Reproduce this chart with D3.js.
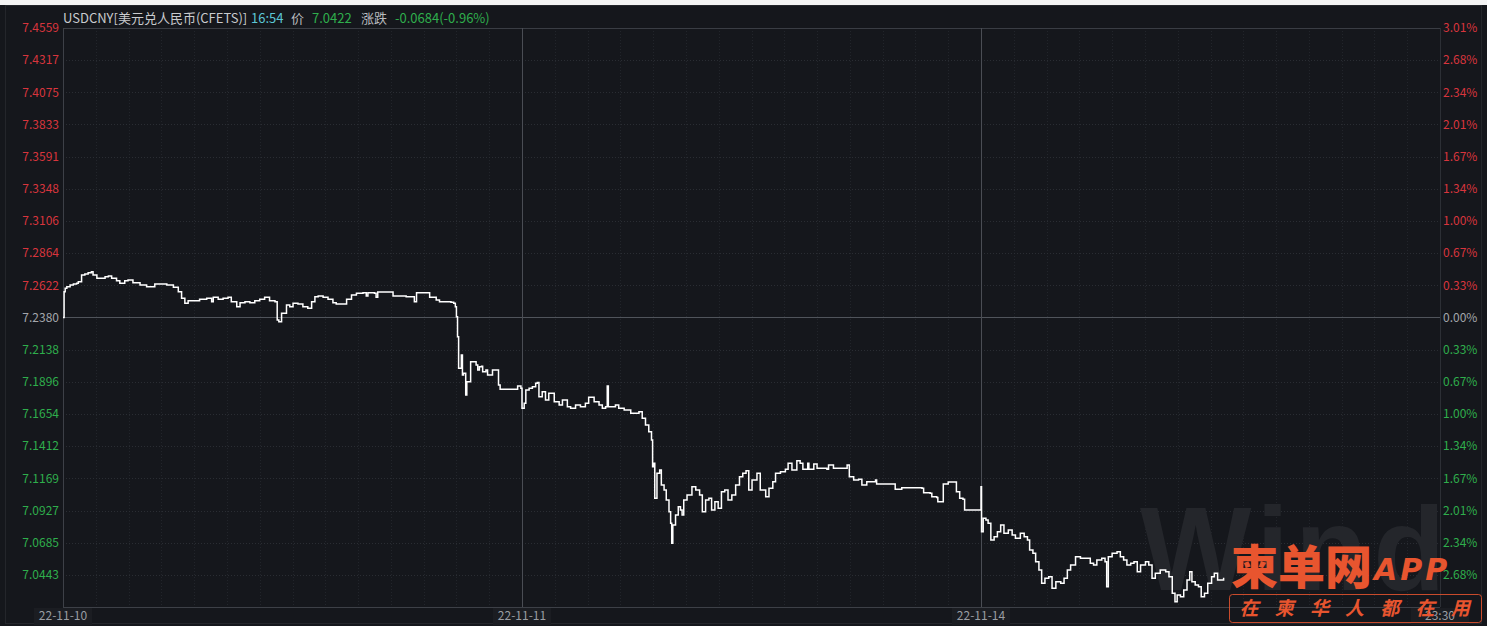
<!DOCTYPE html>
<html><head><meta charset="utf-8">
<script src="https://cdn.jsdelivr.net/npm/d3@7"></script>
<style>body{margin:0;background:#15171c;overflow:hidden} svg{display:block}</style>
</head><body><svg id="c" width="1487" height="626"></svg>
<script>
// ---------- data ----------
const dayLabels = ["22-11-10", "22-11-11", "22-11-14"];
const endLabel = "23:30";
const sessionOpen = "09:30";
const sessionMinutes = 840; // 09:30 - 23:30
const baseValue = 7.2380;
const leftTicks = [7.4559, 7.4317, 7.4075, 7.3833, 7.3591, 7.3348, 7.3106, 7.2864, 7.2622, 7.2380,
                   7.2138, 7.1896, 7.1654, 7.1412, 7.1169, 7.0927, 7.0685, 7.0443];
const rightTickLabels = ["3.01%", "2.68%", "2.34%", "2.01%", "1.67%", "1.34%", "1.00%", "0.67%", "0.33%", "0.00%",
                         "0.33%", "0.67%", "1.00%", "1.34%", "1.67%", "2.01%", "2.34%", "2.68%"];
const yDomain = [7.0201, 7.4559];

const day1 = [["09:30",7.2380],["09:32",7.2574],["09:34",7.2600],["09:37",7.2612],["09:43",7.2625],["09:49",7.2632],["09:55",7.2637],["09:58",7.2649],["10:04",7.2700],["10:10",7.2707],["10:16",7.2717],["10:22",7.2725],["10:25",7.2700],["10:32",7.2675],["10:41",7.2675],["10:47",7.2687],["10:53",7.2692],["10:59",7.2675],["11:08",7.2657],["11:14",7.2637],["11:23",7.2657],["11:29",7.2662],["11:38",7.2642],["11:51",7.2625],["12:03",7.2612],["12:12",7.2612],["12:18",7.2632],["12:30",7.2632],["12:40",7.2625],["12:52",7.2607],["13:01",7.2574],["13:07",7.2525],["13:13",7.2487],["13:19",7.2506],["13:28",7.2506],["13:40",7.2517],["13:53",7.2525],["14:02",7.2499],["14:05",7.2532],["14:14",7.2517],["14:23",7.2525],["14:32",7.2532],["14:38",7.2499],["14:48",7.2461],["14:54",7.2491],["15:03",7.2499],["15:12",7.2491],["15:21",7.2506],["15:30",7.2517],["15:39",7.2532],["15:48",7.2506],["15:58",7.2499],["16:02",7.2361],["16:05",7.2348],["16:10",7.2412],["16:19",7.2474],["16:25",7.2461],["16:31",7.2487],["16:40",7.2482],["16:49",7.2461],["16:58",7.2449],["17:05",7.2499],["17:11",7.2537],["17:17",7.2542],["17:26",7.2532],["17:35",7.2517],["17:44",7.2491],["17:50",7.2482],["18:02",7.2482],["18:09",7.2517],["18:18",7.2549],["18:27",7.2562],["18:39",7.2567],["18:45",7.2542],["18:48",7.2567],["19:00",7.2562],["19:03",7.2532],["19:06",7.2572],["19:28",7.2572],["19:34",7.2542],["19:58",7.2537],["20:10",7.2537],["20:13",7.2499],["20:17",7.2567],["20:38",7.2567],["20:41",7.2532],["20:53",7.2512],["20:59",7.2499],["21:20",7.2494],["21:25",7.2487],["21:28",7.2461],["21:30",7.2386],["21:32",7.2235],["21:34",7.1998],["21:37",7.1998],["21:39",7.2098],["21:41",7.1947],["21:43",7.1960],["21:47",7.1797],["21:49",7.1897],["21:54",7.1897],["21:56",7.2047],["22:03",7.2047],["22:06",7.2022],["22:09",7.1985],["22:12",7.2010],["22:16",7.2013],["22:18",7.1972],["22:24",7.1985],["22:27",7.1947],["22:36",7.1985],["22:43",7.1985],["22:47",7.1872],["22:50",7.1840],["23:19",7.1840],["23:22",7.1864],["23:28",7.1847]];

const day2 = [["09:30",7.1697],["09:34",7.1734],["09:37",7.1834],["09:43",7.1847],["09:49",7.1859],["09:55",7.1885],["09:58",7.1890],["10:01",7.1784],["10:07",7.1822],["10:13",7.1759],["10:19",7.1809],["10:29",7.1746],["10:38",7.1721],["10:44",7.1759],["10:53",7.1709],["10:59",7.1697],["11:08",7.1721],["11:17",7.1709],["11:26",7.1734],["11:32",7.1779],["11:42",7.1746],["11:51",7.1721],["11:57",7.1697],["12:03",7.1709],["12:06",7.1864],["12:08",7.1709],["12:21",7.1721],["12:27",7.1697],["12:37",7.1684],["12:49",7.1659],["12:58",7.1659],["13:04",7.1671],["13:10",7.1621],["13:16",7.1571],["13:22",7.1520],["13:27",7.1458],["13:29",7.1257],["13:31",7.1283],["13:33",7.1019],["13:37",7.1207],["13:42",7.1232],["13:45",7.1119],["13:50",7.1082],["13:54",7.1006],["13:59",7.0918],["14:02",7.0831],["14:04",7.0680],["14:06",7.0818],["14:11",7.0893],["14:16",7.0956],["14:20",7.0931],["14:23",7.0893],["14:26",7.1006],["14:32",7.1044],["14:41",7.1106],["14:48",7.1082],["14:55",7.1044],["15:00",7.0918],["15:06",7.1006],["15:12",7.1019],["15:17",7.0931],["15:23",7.0994],["15:29",7.0944],["15:35",7.1069],["15:41",7.1082],["15:47",7.1006],["15:54",7.1044],["16:01",7.1119],["16:08",7.1182],["16:14",7.1207],["16:20",7.1227],["16:25",7.1082],["16:31",7.1157],["16:40",7.1207],["16:46",7.1082],["16:56",7.1031],["17:02",7.1094],["17:09",7.1144],["17:14",7.1207],["17:23",7.1219],["17:32",7.1237],["17:37",7.1283],["17:44",7.1232],["17:53",7.1302],["17:59",7.1283],["18:04",7.1237],["18:12",7.1237],["18:13",7.1283],["18:15",7.1237],["18:20",7.1237],["18:24",7.1277],["18:30",7.1245],["18:48",7.1237],["18:51",7.1270],["19:00",7.1245],["19:22",7.1245],["19:25",7.1270],["19:29",7.1182],["19:37",7.1157],["19:46",7.1162],["19:52",7.1119],["20:01",7.1144],["20:17",7.1157],["20:19",7.1127],["20:50",7.1127],["20:53",7.1087],["21:02",7.1087],["21:05",7.1099],["21:42",7.1094],["21:45",7.1061],["21:57",7.1057],["22:00",7.1031],["22:09",7.1026],["22:11",7.0994],["22:17",7.0994],["22:21",7.1127],["22:30",7.1142],["22:42",7.1142],["22:45",7.1069],["22:51",7.1019],["22:57",7.1012],["23:00",7.0931]];

const day3 = [["09:30",7.1106],["09:31",7.0768],["09:34",7.0869],["09:39",7.0856],["09:43",7.0831],["09:48",7.0705],["09:54",7.0730],["10:00",7.0768],["10:06",7.0818],["10:12",7.0756],["10:20",7.0780],["10:27",7.0743],["10:33",7.0718],["10:42",7.0756],["10:49",7.0730],["10:55",7.0705],["10:59",7.0630],["11:05",7.0605],["11:10",7.0542],["11:16",7.0479],["11:21",7.0379],["11:27",7.0417],["11:34",7.0429],["11:40",7.0342],["11:47",7.0391],["11:56",7.0379],["12:02",7.0417],["12:08",7.0479],["12:14",7.0517],["12:23",7.0580],["12:32",7.0567],["12:41",7.0567],["12:50",7.0530],["12:56",7.0517],["13:02",7.0555],["13:11",7.0567],["13:17",7.0542],["13:20",7.0354],["13:23",7.0580],["13:30",7.0605],["13:39",7.0617],["13:45",7.0580],["13:51",7.0555],["13:57",7.0517],["14:04",7.0530],["14:10",7.0542],["14:16",7.0467],["14:22",7.0517],["14:31",7.0542],["14:37",7.0517],["14:43",7.0417],["14:49",7.0455],["14:58",7.0479],["15:08",7.0467],["15:14",7.0429],["15:20",7.0304],["15:25",7.0241],["15:29",7.0291],["15:35",7.0278],["15:41",7.0329],["15:47",7.0404],["15:52",7.0467],["15:56",7.0391],["16:02",7.0367],["16:08",7.0354],["16:13",7.0278],["16:19",7.0304],["16:25",7.0379],["16:32",7.0429],["16:37",7.0455],["16:43",7.0404],["16:54",7.0422]];

const header = {name: "USDCNY[美元兑人民币(CFETS)]", time: "16:54", priceLabel: "价", price: "7.0422", chgLabel: "涨跌", chg: "-0.0684(-0.96%)"};
const sloganChars = ["在", "柬", "华", "人", "都", "在", "用"];

// ---------- layout ----------
const W = 1487, H = 626;
const L = 63, R = 1440, T = 28, B = 607;
const svg = d3.select("#c");
const font = "'Noto Sans CJK SC','Noto Sans',sans-serif";
const cRed = "#d8353d", cGreen = "#2fae4c", cGray = "#a3a6ab";

svg.append("rect").attr("width", W).attr("height", H).attr("fill", "#15171c");
svg.append("rect").attr("width", W).attr("height", 5).attr("fill", "#f4f4f4");
svg.append("rect").attr("x", 5.5).attr("y", 5.5).attr("width", W - 11).attr("height", H - 8)
   .attr("fill", "none").attr("stroke", "#24262b");

const parseMin = s => { const [h, m] = s.split(":").map(Number); const [h0, m0] = sessionOpen.split(":").map(Number); return (h * 60 + m) - (h0 * 60 + m0); };
const series = [day1, day2, day3].flatMap((d, i) => d.map(([t, v]) => ({x: i * sessionMinutes + parseMin(t), v})));

const x = d3.scaleLinear().domain([0, sessionMinutes * dayLabels.length]).range([L, R]);
const y = d3.scaleLinear().domain(yDomain).range([B, T]);

// hourly faint vertical grid
const hourly = d3.range(1, sessionMinutes * dayLabels.length / 60).map(h => h * 60).filter(m => m % sessionMinutes !== 0);
svg.append("g").selectAll("line").data(hourly).join("line")
  .attr("x1", d => Math.round(x(d)) + 0.5).attr("x2", d => Math.round(x(d)) + 0.5)
  .attr("y1", T).attr("y2", B).attr("stroke", "#22252b").attr("stroke-dasharray", "1,2");

// horizontal grid
svg.append("g").selectAll("line").data(leftTicks).join("line")
  .attr("x1", L).attr("x2", R)
  .attr("y1", d => Math.round(y(d)) + 0.5).attr("y2", d => Math.round(y(d)) + 0.5)
  .attr("stroke", d => d === baseValue ? "#50545b" : (d === leftTicks[0] ? "#3a3d44" : "#2a2d33"))
  .attr("stroke-dasharray", d => (d === baseValue || d === leftTicks[0]) ? null : "1,2");

// day separators
svg.append("g").selectAll("line").data(d3.range(1, dayLabels.length)).join("line")
  .attr("x1", d => Math.round(x(d * sessionMinutes)) + 0.5).attr("x2", d => Math.round(x(d * sessionMinutes)) + 0.5)
  .attr("y1", T).attr("y2", B).attr("stroke", "#4a4d54");

// frame
svg.append("line").attr("x1", L + 0.5).attr("x2", L + 0.5).attr("y1", T).attr("y2", B).attr("stroke", "#3d4047");
svg.append("line").attr("x1", R + 0.5).attr("x2", R + 0.5).attr("y1", T).attr("y2", B).attr("stroke", "#2c2f35");
svg.append("line").attr("x1", L).attr("x2", R).attr("y1", B + 0.5).attr("y2", B + 0.5).attr("stroke", "#3d4047");

// watermark Wind
svg.append("text").attr("x", 1140).attr("y", 590).attr("font-family", "'Liberation Sans',Arial,sans-serif")
  .attr("font-size", 118).attr("font-weight", "bold").attr("fill", "#24262b").attr("letter-spacing", 6).text("Wind");

// left axis labels
svg.append("g").selectAll("text").data(leftTicks).join("text")
  .attr("x", 59).attr("y", d => y(d)).attr("dy", "0.35em").attr("text-anchor", "end")
  .attr("font-family", font).attr("font-size", 12)
  .attr("fill", d => d > baseValue ? cRed : d < baseValue ? cGreen : cGray)
  .text(d => d.toFixed(4));

// right axis labels
svg.append("g").selectAll("text").data(leftTicks).join("text")
  .attr("x", 1443).attr("y", d => y(d)).attr("dy", "0.35em").attr("text-anchor", "start")
  .attr("font-family", font).attr("font-size", 12)
  .attr("fill", d => d > baseValue ? cRed : d < baseValue ? cGreen : cGray)
  .text((d, i) => rightTickLabels[i]);

// bottom labels
const xLabels = dayLabels.map((d, i) => ({t: d, m: i * sessionMinutes})).concat([{t: endLabel, m: sessionMinutes * dayLabels.length}]);
const xl = svg.append("g").selectAll("g").data(xLabels).join("g");
xl.append("rect").attr("x", d => x(d.m) - 29).attr("y", B + 1).attr("width", 58).attr("height", 17).attr("fill", "#1b1d22");
xl.append("text").attr("x", d => x(d.m)).attr("y", 616).attr("dy", "0.35em").attr("text-anchor", "middle")
  .attr("font-family", font).attr("font-size", 12).attr("fill", "#9a9da2").text(d => d.t);

// price line
const line = d3.line().x(d => x(d.x)).y(d => y(d.v)).curve(d3.curveStepAfter);
svg.append("path").datum(series).attr("d", line).attr("fill", "none").attr("stroke", "#ffffff").attr("stroke-width", 1.5);

// header
const hg = svg.append("text").attr("y", 18).attr("dy", "0.35em").attr("font-family", font).attr("font-size", 13);
hg.append("tspan").attr("x", 63).attr("fill", "#c9cbce").text(header.name);
hg.append("tspan").attr("x", 251).attr("fill", "#5cc6d6").text(header.time);
hg.append("tspan").attr("x", 291).attr("fill", "#b9bbbf").text(header.priceLabel);
hg.append("tspan").attr("x", 312).attr("fill", cGreen).text(header.price);
hg.append("tspan").attr("x", 361).attr("fill", "#b9bbbf").text(header.chgLabel);
hg.append("tspan").attr("x", 395).attr("fill", cGreen).text(header.chg);

// logo watermark
const orange = "#e8552f";
svg.append("text").attr("x", 1231).attr("y", 584).attr("font-family", "'Noto Sans CJK SC',sans-serif")
  .attr("font-size", 47).attr("font-weight", "900").attr("fill", orange).text("柬单网");
svg.append("text").attr("x", 1374).attr("y", 580).attr("font-family", "'DejaVu Sans',sans-serif")
  .attr("font-size", 30).attr("font-weight", "bold").attr("font-style", "italic").attr("letter-spacing", 3).attr("fill", orange).text("APP");
svg.append("rect").attr("x", 1229.5).attr("y", 594.5).attr("width", 252).attr("height", 28).attr("rx", 3)
  .attr("fill", "none").attr("stroke", orange).attr("stroke-opacity", 0.85);
svg.append("g").selectAll("text").data(sloganChars).join("text")
  .attr("x", (d, i) => 1249 + i * 35.2).attr("y", 615).attr("text-anchor", "middle")
  .attr("font-family", "'Noto Sans CJK SC',sans-serif").attr("font-size", 19).attr("font-weight", "bold")
  .attr("font-style", "italic").attr("fill", orange).text(d => d);
</script></body></html>
